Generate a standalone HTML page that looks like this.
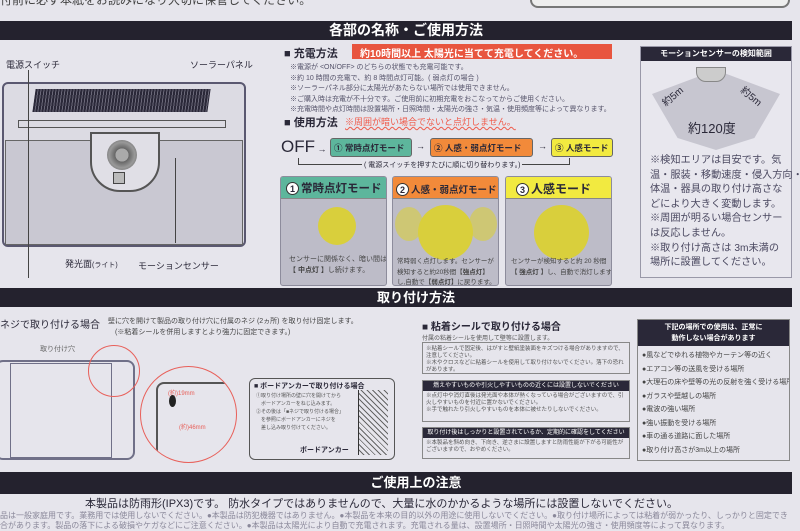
<!DOCTYPE html>
<html><head><meta charset="utf-8"><style>
*{margin:0;padding:0;box-sizing:border-box}
body{width:800px;height:530px;overflow:hidden;background:#e6e5ec;font-family:"Liberation Sans","Noto Sans CJK JP",sans-serif;color:#2a2838;position:relative}
.a{position:absolute;white-space:nowrap}
.bar{position:absolute;left:0;width:792px;background:#24222e;color:#fff;font-weight:bold;text-align:center}
.s{font-size:7px;color:#55536a;line-height:10.5px}
.mode{position:absolute;top:176px;width:107px;height:110px;background:#bdbcc8;border:1px solid #8d8c9c;border-radius:3px;overflow:hidden}
.mh{height:22px;font-size:12px;font-weight:bold;padding:3px 0 0 5px;border-bottom:1px solid #888;white-space:nowrap}
.circ{display:inline-block;width:13px;height:13px;border:1px solid #333;border-radius:50%;background:#fff;font-size:9px;text-align:center;line-height:12px;margin-right:2px}
.pill{position:absolute;top:138px;height:19px;border:1px solid #666;border-radius:3px;font-size:8.5px;font-weight:bold;padding:3px 3px;white-space:nowrap;overflow:hidden}
.glow{position:absolute;border-radius:50%;background:#d9cf3c}
.wn{white-space:normal}
</style></head><body>
<div class="a" style="left:0;top:-9px;font-size:12px;color:#444">付前に必ず本紙をお読みになり大切に保管してください。</div>
<div class="a" style="left:530px;top:-4px;width:260px;height:12px;border:2px solid #777;border-top:none;border-radius:0 0 8px 8px;background:#eee"></div>

<div class="bar" style="top:21px;height:19px;font-size:14px;line-height:19px;padding-left:20px">各部の名称・ご使用方法</div>

<!-- device -->
<div class="a" style="left:6px;top:58px;font-size:9px">電源スイッチ</div>
<div class="a" style="left:190px;top:58px;font-size:9px">ソーラーパネル</div>
<div class="a" style="left:2px;top:82px;width:244px;height:165px;border:2px solid #5a5870;border-radius:6px;background:#dcdbe3"></div>
<div class="a" style="left:34px;top:89px;width:175px;height:23px;background:repeating-linear-gradient(90deg,#2a2838 0 2px,#6a6878 2px 3px);transform:skewX(-8deg)"></div>
<div class="a" style="left:18px;top:120px;width:208px;height:8px;border:1px solid #555"></div>
<div class="a" style="left:5px;top:140px;width:238px;height:105px;background:#c9c8d2;border:1px solid #666"></div>
<div class="a" style="left:90px;top:132px;width:70px;height:60px;border:2px solid #555;border-radius:0 0 30px 30px;background:#e0dfe6"></div>
<div class="a" style="left:107px;top:140px;width:30px;height:30px;border-radius:50%;background:radial-gradient(#aaa 30%,#666 32%,#999 60%,#555)"></div>
<div class="a" style="left:113px;top:172px;width:12px;height:12px;border:1px solid #444;background:#bbb"></div>
<div class="a" style="left:28px;top:70px;border-left:1px solid #444;height:208px"></div>
<div class="a" style="left:65px;top:257px;font-size:9px">発光面<span style="font-size:7px">(ライト)</span></div>
<div class="a" style="left:138px;top:259px;font-size:9px">モーションセンサー</div>
<div class="a" style="left:175px;top:158px;border-left:1px solid #444;height:85px"></div>

<!-- middle -->
<div class="a" style="left:284px;top:45px;font-size:11px;font-weight:bold">■ 充電方法</div>
<div class="a" style="left:352px;top:44px;width:260px;height:15px;background:#e8553f;color:#fff;font-size:10px;font-weight:bold;padding:1px 0 0 8px">約10時間以上 太陽光に当てて充電してください。</div>
<div class="a s" style="left:290px;top:63px">※電源が &lt;ON/OFF&gt; のどちらの状態でも充電可能です。<br>※約 10 時間の充電で、約 8 時間点灯可能。( 弱点灯の場合 )<br>※ソーラーパネル部分に太陽光があたらない場所では使用できません。<br>※ご購入時は充電が不十分です。ご使用前に初期充電をおこなってからご使用ください。<br>※充電時間や点灯時間は設置場所・日照時間・太陽光の強さ・気温・使用頻度等によって異なります。</div>
<div class="a" style="left:284px;top:114px;font-size:11px;font-weight:bold">■ 使用方法</div>
<div class="a" style="left:345px;top:115px;font-size:9px;color:#f05a4a;text-decoration:underline wavy #f05a4a">※周囲が暗い場合でないと点灯しません。</div>
<div class="a" style="left:281px;top:137px;font-size:17px">OFF<span style="font-size:9px"> →</span></div>
<div class="pill" style="left:330px;width:82px;background:#5db69c">① 常時点灯モード</div>
<div class="a" style="left:416px;top:141px;font-size:9px">→</div>
<div class="pill" style="left:430px;width:103px;background:#f28a3a">② 人感・弱点灯モード</div>
<div class="a" style="left:538px;top:141px;font-size:9px">→</div>
<div class="pill" style="left:551px;width:62px;background:#f2ea40">③ 人感モード</div>
<div class="a" style="left:298px;top:158px;width:272px;height:7px;border:1px solid #444;border-top:none"></div>
<div class="a" style="left:362px;top:160px;font-size:7px;background:#e6e5ec;padding:0 2px">( 電源スイッチを押すたびに順に切り替わります。)</div>

<div class="mode" style="left:280px"><div class="mh" style="background:#5db69c;font-size:11.5px"><span class="circ">1</span>常時点灯モード</div>
<div class="glow" style="left:37px;top:30px;width:38px;height:38px"></div>
<div class="a s" style="left:8px;top:78px;color:#444">センサーに関係なく、暗い間は<br><b>【 中点灯 】</b>し続けます。</div></div>
<div class="mode" style="left:392px"><div class="mh" style="background:#f28a3a;font-size:9.5px;padding-top:5px;padding-left:3px"><span class="circ">2</span>人感・弱点灯モード</div>
<div class="glow" style="left:2px;top:30px;width:28px;height:34px;opacity:.6"></div>
<div class="glow" style="left:76px;top:30px;width:28px;height:34px;opacity:.6"></div>
<div class="glow" style="left:25px;top:28px;width:55px;height:55px"></div>
<div class="a s" style="left:4px;top:80px;color:#444;font-size:6.5px">常時弱く点灯します。センサーが<br>検知すると約20秒間<b>【強点灯】</b><br>し,自動で<b>【弱点灯】</b>に戻ります。</div></div>
<div class="mode" style="left:505px"><div class="mh" style="background:#f2ea40;padding-left:10px"><span class="circ">3</span>人感モード</div>
<div class="glow" style="left:28px;top:28px;width:55px;height:55px"></div>
<div class="a s" style="left:5px;top:80px;color:#444;font-size:6.5px">センサーが検知すると約 20 秒間<br><b>【 強点灯 】</b>し、自動で消灯します。</div></div>

<!-- right -->
<div class="a" style="left:640px;top:46px;width:152px;height:232px;border:1px solid #9998a8;background:#e8e7ee"></div>
<div class="a" style="left:641px;top:47px;width:150px;height:14px;background:#2a2838;color:#fff;font-size:8px;font-weight:bold;text-align:center;line-height:14px">モーションセンサーの検知範囲</div>
<div class="a" style="left:652px;top:70px;width:128px;height:80px;background:#c7c6d0;clip-path:polygon(0 30%,50% 0,100% 30%,80% 85%,50% 100%,20% 85%)"></div>
<div class="a" style="left:696px;top:67px;width:30px;height:15px;background:#ccc;border:1px solid #888;border-radius:0 0 10px 10px"></div>
<div class="a" style="left:660px;top:88px;font-size:10px;transform:rotate(-40deg)">約5m</div>
<div class="a" style="left:740px;top:88px;font-size:10px;transform:rotate(40deg)">約5m</div>
<div class="a" style="left:688px;top:118px;font-size:13px">約120度</div>
<div class="a" style="left:650px;top:154px;font-size:10.2px;line-height:14.6px;color:#4a4860">※検知エリアは目安です。気<br>温・服装・移動速度・侵入方向・<br>体温・器具の取り付け高さな<br>どにより大きく変動します。<br>※周囲が明るい場合センサー<br>は反応しません。<br>※取り付け高さは 3m未満の<br>場所に設置してください。</div>

<div class="bar" style="top:288px;height:19px;font-size:13px;line-height:19px;padding-left:40px">取り付け方法</div>

<!-- install left -->
<div class="a" style="left:0;top:316px;font-size:10px">ネジで取り付ける場合</div>
<div class="a" style="left:108px;top:316px;font-size:7px;line-height:11px;color:#444">壁に穴を開けて製品の取り付け穴に付属のネジ (2ヵ所) を取り付け固定します。<br>　(※粘着シールを併用しますとより強力に固定できます。)</div>
<div class="a" style="left:40px;top:344px;font-size:7px;color:#666">取り付け穴</div>
<div class="a" style="left:-5px;top:360px;width:140px;height:100px;border:2px solid #707088;border-radius:8px"></div>
<div class="a" style="left:10px;top:363px;width:102px;height:95px;border:1px solid #707088"></div>
<div class="a" style="left:88px;top:345px;width:52px;height:52px;border:1px solid #e8605a;border-radius:50%"></div>
<div class="a" style="left:140px;top:366px;width:97px;height:97px;border:1px solid #e8605a;border-radius:50%;overflow:hidden"><div style="position:absolute;left:15px;top:15px;width:100px;height:90px;border:2px solid #555;border-radius:8px"></div><div style="position:absolute;left:27px;top:21px;font-size:6px;color:#e8605a">(約)19mm</div><div style="position:absolute;left:38px;top:55px;font-size:6px;color:#e8605a">(約)46mm</div><div style="position:absolute;left:28px;top:28px;width:7px;height:12px;border-radius:50%;background:#222"></div></div>
<div class="a" style="left:249px;top:378px;width:146px;height:82px;border:1px solid #555;border-radius:6px"></div>
<div class="a" style="left:254px;top:381px;font-size:7px;font-weight:bold">■ ボードアンカーで取り付ける場合</div>
<div class="a" style="left:256px;top:392px;font-size:5px;line-height:8px;color:#555">①取り付け場所の壁に穴を開けてから<br>　ボードアンカーをねじ込みます。<br>②その後は「■ネジで取り付ける場合」<br>　を参照にボードアンカーにネジを<br>　差し込み取り付けてください。</div>
<div class="a" style="left:358px;top:390px;width:30px;height:65px;background:repeating-linear-gradient(45deg,#e6e5ec 0 3px,#666 3px 4px);border-left:1px solid #333"></div>
<div class="a" style="left:300px;top:445px;font-size:7px;font-weight:bold">ボードアンカー</div>

<!-- install middle -->
<div class="a" style="left:422px;top:318px;font-size:10px;font-weight:bold">■ 粘着シールで取り付ける場合</div>
<div class="a" style="left:422px;top:333px;font-size:6px;color:#555">付属の粘着シールを使用して壁等に設置します。</div>
<div class="a wn" style="left:422px;top:342px;width:208px;height:32px;border:1px solid #888;font-size:5.5px;line-height:7px;color:#555;padding:3px">※粘着シールで固定後、はがすと壁紙塗装面をキズつける場合がありますので、注意してください。<br>※木やクロスなどに粘着シールを使用して取り付けないでください。落下の恐れがあります。</div>
<div class="a wn" style="left:422px;top:380px;width:208px;height:42px;border:1px solid #888"><div style="background:#2a2838;color:#fff;font-size:6px;height:10px;text-align:center;line-height:10px">燃えやすいものや引火しやすいものの近くには設置しないでください</div><div style="font-size:5.5px;line-height:7px;color:#555;padding:2px 3px">※点灯中や消灯直後は発光面や本体が熱くなっている場合がございますので、引火しやすいものを付近に置かないでください。<br>※手で触れたり引火しやすいものを本体に被せたりしないでください。</div></div>
<div class="a wn" style="left:422px;top:427px;width:208px;height:32px;border:1px solid #888"><div style="background:#2a2838;color:#fff;font-size:6px;height:10px;text-align:center;line-height:10px">取り付け後はしっかりと設置されているか、定期的に確認をしてください</div><div style="font-size:5.5px;line-height:7px;color:#555;padding:2px 3px">※本製品を斜め向き、下向き、逆さまに設置しますと防雨性能が下がる可能性がございますので、おやめください。</div></div>

<!-- install right -->
<div class="a" style="left:637px;top:319px;width:153px;height:142px;border:1px solid #888;overflow:hidden"><div style="background:#2a2838;color:#fff;font-size:7px;font-weight:bold;height:26px;text-align:center;line-height:11px;padding-top:2px">下記の場所での使用は、正常に<br>動作しない場合があります</div><div style="font-size:7px;line-height:13.5px;color:#444;padding:3px 4px">●風などでゆれる植物やカーテン等の近く<br>●エアコン等の送風を受ける場所<br>●大理石の床や壁等の光の反射を強く受ける場所<br>●ガラスや壁越しの場所<br>●電波の強い場所<br>●強い振動を受ける場所<br>●車の通る道路に面した場所<br>●取り付け高さが3m以上の場所</div></div>

<div class="bar" style="top:472px;height:22px;font-size:13px;line-height:22px;padding-left:40px">ご使用上の注意</div>
<div class="a" style="left:85px;top:495px;font-size:11px">本製品は防雨形(IPX3)です。 防水タイプではありませんので、大量に水のかかるような場所には設置しないでください。</div>
<div class="a" style="left:0;top:511px;font-size:8px;color:#8a889a;line-height:10px">品は一般家庭用です。業務用では使用しないでください。●本製品は防犯機器ではありません。●本製品を本来の目的以外の用途に使用しないでください。●取り付け場所によっては粘着が弱かったり、しっかりと固定でき<br>合があります。製品の落下による破損やケガなどにご注意ください。●本製品は太陽光により自動で充電されます。充電される量は、設置場所・日照時間や太陽光の強さ・使用頻度等によって異なります。</div>
</body></html>
